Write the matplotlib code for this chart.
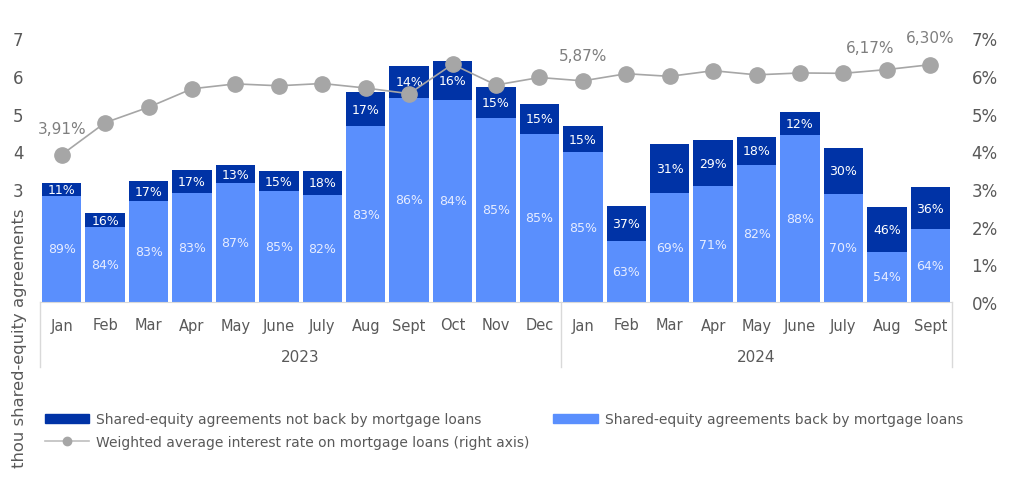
import numpy as np
import matplotlib
matplotlib.use("Agg")
import matplotlib.pyplot as plt
from matplotlib.patches import Patch
from matplotlib.lines import Line2D
import matplotlib.transforms as mtransforms

# Data (thousands of agreements)
months = ["Jan", "Feb", "Mar", "Apr", "May", "June", "July", "Aug", "Sept", "Oct", "Nov", "Dec",
          "Jan", "Feb", "Mar", "Apr", "May", "June", "July", "Aug", "Sept"]
years = ["2023", "2024"]
year_len = [12, 9]
backed = [2.82, 2.00, 2.67, 2.90, 3.15, 2.94, 2.85, 4.67, 5.42, 5.37, 4.89, 4.47,
          3.97, 1.63, 2.90, 3.07, 3.63, 4.42, 2.87, 1.34, 1.94]
not_backed = [0.35, 0.35, 0.53, 0.60, 0.48, 0.53, 0.62, 0.90, 0.85, 1.02, 0.83, 0.79,
              0.69, 0.91, 1.29, 1.22, 0.76, 0.62, 1.22, 1.18, 1.10]
backed_pct = [89, 84, 83, 83, 87, 85, 82, 83, 86, 84, 85, 85, 85, 63, 69, 71, 82, 88, 70, 54, 64]
not_backed_pct = [11, 16, 17, 17, 13, 15, 18, 17, 14, 16, 15, 15, 15, 37, 31, 29, 18, 12, 30, 46, 36]
rate = [3.91, 4.76, 5.17, 5.66, 5.79, 5.74, 5.80, 5.68, 5.53, 6.31, 5.76, 5.96,
        5.87, 6.06, 5.99, 6.14, 6.03, 6.08, 6.07, 6.17, 6.30]
rate_labels = {0: (0, 26), 12: (0, 25), 19: (-17, 22), 20: (0, 27)}

dark = "#0033a6"
light = "#5a8ffd"
grey = "#a6a6a6"
txt = "#595959"

plt.rcParams["font.family"] = "DejaVu Sans"

fig = plt.figure(figsize=(10.24, 4.85), dpi=100)
ax = fig.add_axes([40 / 1024, 1 - 303 / 485, 912 / 1024, (303 - 39.3) / 485])
x = np.arange(len(months))

ax.bar(x, backed, width=0.91, color=light, zorder=2)
ax.bar(x, not_backed, width=0.91, bottom=backed, color=dark, zorder=2)
for i in x:
    ax.text(i, backed[i] / 2, f"{backed_pct[i]}%", ha="center", va="center",
            color="#e6ecff", fontsize=9)
    ax.text(i, backed[i] + not_backed[i] / 2, f"{not_backed_pct[i]}%", ha="center",
            va="center", color="white", fontsize=9)

ax.set_xlim(-0.5, len(months) - 0.5)
ax.set_ylim(0, 7)
ax.set_yticks([3, 4, 5, 6, 7])
ax.tick_params(axis="y", length=0, labelsize=12, labelcolor=txt, pad=12)
ax.set_xticks([])
for s in ["top", "right", "left"]:
    ax.spines[s].set_visible(False)
ax.spines["bottom"].set_color("#d9d9d9")

# category labels and year grouping
trans = mtransforms.blended_transform_factory(ax.transData, fig.transFigure)
for i, m in enumerate(months):
    ax.text(i, 1 - 326 / 485, m, transform=trans, ha="center", va="center",
            fontsize=10.5, color=txt)
start = -0.5
edges = [start]
for y, n in zip(years, year_len):
    ax.text(start + n / 2, 1 - 357 / 485, y, transform=trans, ha="center", va="center",
            fontsize=11, color=txt)
    start += n
    edges.append(start)
for e in edges:
    ax.plot([e, e], [1 - 303 / 485, 1 - 368 / 485], transform=trans, color="#d9d9d9",
            lw=1, clip_on=False)

ax2 = ax.twinx()
ax2.plot(x, rate, color=grey, lw=1.2, marker="o", ms=11, markerfacecolor=grey,
         markeredgecolor=grey, zorder=3)
ax2.set_ylim(0, 7)
ax2.set_yticks(range(0, 8))
ax2.set_yticklabels([f"{v}%" for v in range(0, 8)])
ax2.tick_params(axis="y", length=0, labelsize=12, labelcolor=txt, pad=14)
for s in ax2.spines.values():
    s.set_visible(False)
for i, off in rate_labels.items():
    ax2.annotate(f"{rate[i]:.2f}%".replace(".", ","), (i, rate[i]), xytext=off,
                 textcoords="offset pixels", ha="center", va="center",
                 fontsize=11, color="#7f7f7f")

fig.text(20 / 1024, 1 - 338 / 485, "thou shared-equity agreements", rotation=90,
         ha="center", va="center", fontsize=11.8, color=txt)

handles = [Patch(color=dark), Line2D([0], [0], color="#bfbfbf", lw=1.2, marker="o",
                                      ms=6, markerfacecolor=grey, markeredgecolor=grey),
           Patch(color=light)]
labels = ["Shared-equity agreements not back by mortgage loans",
          "Weighted average interest rate on mortgage loans (right axis)",
          "Shared-equity agreements back by mortgage loans"]
fig.legend(handles, labels, ncol=2, loc="upper left", bbox_to_anchor=(45 / 1024, 1 - 413 / 485),
           frameon=False, fontsize=10, labelcolor=txt, handlelength=3.2, handleheight=0.6,
           handletextpad=0.5, columnspacing=1.7, labelspacing=0.65, borderaxespad=0,
           borderpad=0)

fig.savefig("out.png", dpi=100)
